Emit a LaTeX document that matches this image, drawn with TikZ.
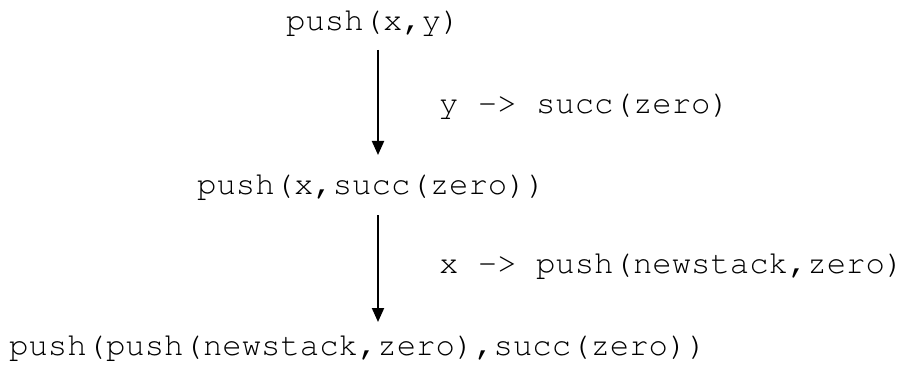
\documentclass[tikz,border=0pt]{standalone}
\usepackage[T1]{fontenc}
\usetikzlibrary{arrows.meta,calc}
% Courier-style typewriter face for the terms
\newcommand{\termfont}{\fontencoding{T1}\fontfamily{pcr}\fontseries{m}\fontshape{n}\fontsize{32.3}{36}\selectfont}
\begin{document}
\begin{tikzpicture}[x=1pt,y=1pt,
  term/.style={inner sep=0pt,anchor=base west,font=\termfont},
  rule/.style={term},
  step arrow/.style={line width=2pt,-{Triangle[length=14pt,width=12pt]}}]
  \useasboundingbox (0,0) rectangle (917,367);
  % terms of the rewriting sequence
  \node[term] (t0) at (286,336) {push(x,y)};
  \node[term] (t1) at (197,172) {push(x,succ(zero))};
  \node[term] (t2) at (9,12) {push(push(newstack,zero),succ(zero))};
  % substitutions applied at each step
  \node[rule] (r0) at (439,253) {y -> succ(zero)};
  \node[rule] (r1) at (439,94) {x -> push(newstack,zero)};
  % rewriting steps
  \coordinate (ax) at (378,0);
  \draw[step arrow] ($(t0.base -| ax)+(0,-19)$) -- ($(t1.base -| ax)+(0,40)$);
  \draw[step arrow] ($(t1.base -| ax)+(0,-20)$) -- ($(t2.base -| ax)+(0,33)$);
\end{tikzpicture}
\end{document}
